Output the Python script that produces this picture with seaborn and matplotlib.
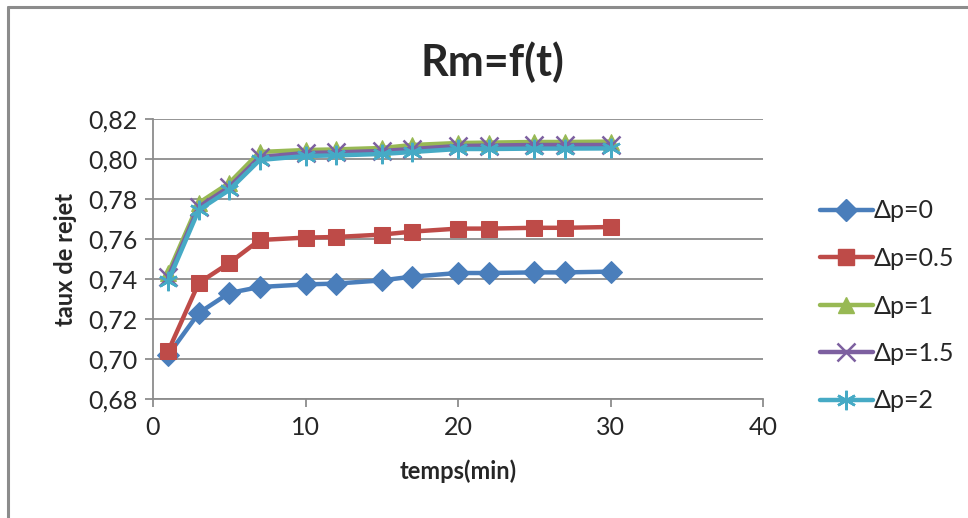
import matplotlib
matplotlib.use("Agg")
import matplotlib.pyplot as plt
import matplotlib.lines as mlines
import seaborn as sns
import pandas as pd
from matplotlib.ticker import FuncFormatter, MultipleLocator

t = [1, 3, 5, 7, 10, 12, 15, 17, 20, 22, 25, 27, 30]
dp0 = [0.702, 0.723, 0.733, 0.736, 0.7373, 0.7377, 0.7393, 0.7412, 0.743, 0.743, 0.7433, 0.7433, 0.7437]
dp05 = [0.704, 0.738, 0.748, 0.7595, 0.7607, 0.761, 0.7622, 0.7637, 0.7652, 0.7652, 0.7656, 0.7656, 0.766]
dp1 = [0.743, 0.778, 0.788, 0.8035, 0.8045, 0.8048, 0.8055, 0.807, 0.808, 0.8082, 0.8085, 0.8085, 0.8087]
dp15 = [0.741, 0.776, 0.786, 0.801, 0.803, 0.8033, 0.804, 0.805, 0.8065, 0.8067, 0.807, 0.807, 0.807]
dp2 = [0.739, 0.7745, 0.7845, 0.7995, 0.8015, 0.8018, 0.8025, 0.8035, 0.805, 0.805, 0.8052, 0.8052, 0.8053]
labels = ["Δp=0", "Δp=0.5", "Δp=1", "Δp=1.5", "Δp=2"]
series = [dp0, dp05, dp1, dp15, dp2]
colors = ["#4A7EBB", "#BE4B48", "#98B954", "#7D60A0", "#46AAC5"]
markers = ["D", "s", "^", "x", (6, 2, 0)]
msizes = [11, 12, 12, 13, 14]

sns.set_style("white")
plt.rcParams["font.family"] = ["Lato", "DejaVu Sans"]

fig = plt.figure(figsize=(9.68, 5.18), dpi=100)
ax = fig.add_axes([153/968, 1-399/518, (763-153)/968, (399-119)/518])

handles = []
for lab, ys, c, m, ms in zip(labels, series, colors, markers, msizes):
    df = pd.DataFrame({"t": t, "v": ys})
    filled = m in ("D", "s", "^")
    kw = dict(marker=m, markersize=ms, color=c, linewidth=3.2)
    if filled:
        kw.update(markeredgecolor=c, markerfacecolor=c)
    else:
        kw.update(markeredgewidth=1.8, markeredgecolor=c)
    sns.lineplot(data=df, x="t", y="v", ax=ax, legend=False, **kw)
    handles.append(mlines.Line2D([], [], label=lab, **kw))

ax.set_xlim(0, 40)
ax.set_ylim(0.68, 0.82)
ax.xaxis.set_major_locator(MultipleLocator(10))
ax.yaxis.set_major_locator(MultipleLocator(0.02))
ax.yaxis.set_major_formatter(FuncFormatter(lambda v, p: f"{v:.2f}".replace(".", ",")))
ax.grid(axis="y", color="#8C8C8C", linewidth=1.3)
ax.grid(axis="x", visible=False)
ax.set_axisbelow(True)
for s in ["top", "right"]:
    ax.spines[s].set_visible(False)
for s in ["left", "bottom"]:
    ax.spines[s].set_color("#8C8C8C")
    ax.spines[s].set_linewidth(1.3)
ax.tick_params(axis="both", which="major", length=6, width=1.3, color="#8C8C8C",
               labelsize=18, direction="out", pad=5)
ax.tick_params(axis="x", bottom=True, pad=6)
ax.tick_params(axis="y", left=True, pad=5)

ax.set_xlabel("temps(min)", fontsize=17, fontweight="bold", labelpad=15)
ax.set_ylabel("taux de rejet", fontsize=17, fontweight="bold", labelpad=8)
fig.text(492/968, 1-62/518, "Rm=f(t)", fontsize=31, fontweight="bold", ha="center", va="center")

fig.legend(handles=handles, loc="center left", bbox_to_anchor=(810/968, 1-306/518),
           frameon=False, fontsize=18, handlelength=2.1, labelspacing=0.98,
           handletextpad=0.05, borderaxespad=0)

# chart border (top and left visible)
fig.add_artist(mlines.Line2D([8/968, 1.0], [1-7/518, 1-7/518], color="#8C8C8C", linewidth=2.2, transform=fig.transFigure))
fig.add_artist(mlines.Line2D([8/968, 8/968], [0, 1-7/518], color="#8C8C8C", linewidth=2.2, transform=fig.transFigure))

fig.savefig("out.png", dpi=100)
